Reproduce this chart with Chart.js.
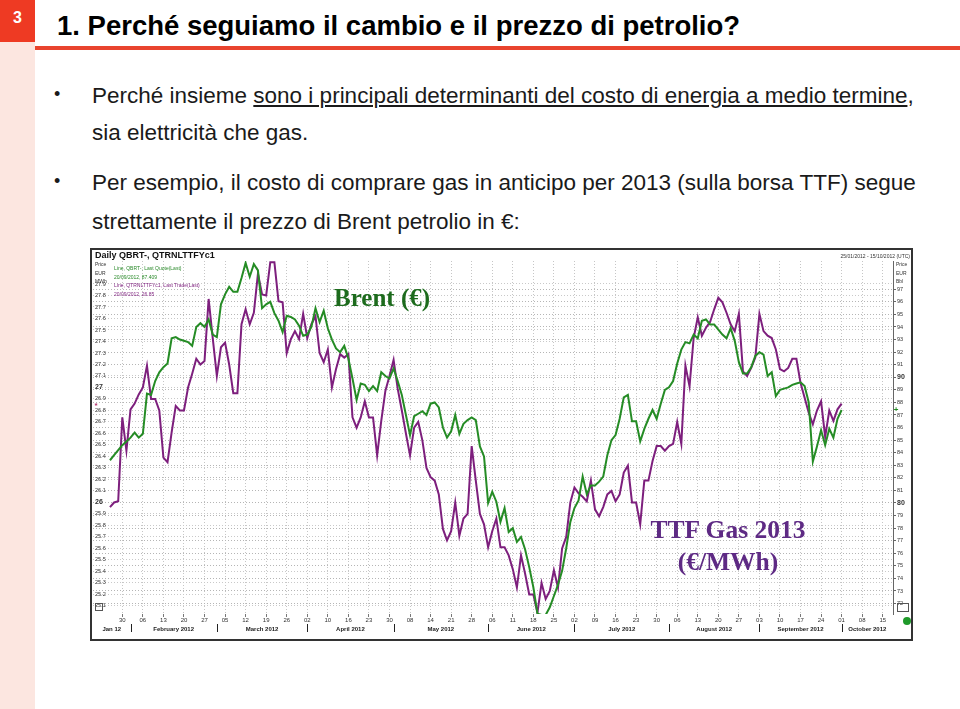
<!DOCTYPE html>
<html lang="it">
<head>
<meta charset="utf-8">
<title>Brent e TTF Gas 2013</title>
<script src="https://cdn.jsdelivr.net/npm/chart.js@4.4.1/dist/chart.umd.min.js"></script>
<style>
  body { margin:0; width:960px; height:709px; position:relative; overflow:hidden; background:#fff; font-family:"Liberation Sans", Arial, sans-serif; }
  .abs { position:absolute; white-space:nowrap; }
  #strip { left:0; top:0; width:35px; height:709px; background:#fce6e0; }
  #num { left:0; top:0; width:35px; height:42px; background:#ee3a23; color:#fff; font-weight:bold; font-size:16px; line-height:36px; text-align:center; }
  #title { left:57px; top:10px; font-size:27.5px; font-weight:bold; color:#000; }
  #rule { left:35px; top:46px; width:925px; height:4px; background:#e9442e; }
  .txt { font-size:22.5px; color:#1a1a1a; line-height:24px; }
  .bul { font-size:18px; color:#1a1a1a; }
  #frame { left:90px; top:248px; width:823px; height:393px; border:2px solid #333; box-sizing:border-box; }
  #chart { position:absolute; left:92px; top:250px; }
  .tiny { font-size:5px; color:#333; line-height:8.5px; }
  .ann { font-family:"Liberation Serif", "Times New Roman", serif; font-weight:bold; }
</style>
</head>
<body>
<div id="strip" class="abs"></div>
<div id="num" class="abs">3</div>
<div id="title" class="abs">1. Perché seguiamo il cambio e il prezzo di petrolio?</div>
<div id="rule" class="abs"></div>

<div class="abs bul" style="left:54px;top:84px">•</div>
<div class="abs txt" style="left:92px;top:84px">Perché insieme <u>sono i principali determinanti del costo di energia a medio termine</u>,</div>
<div class="abs txt" style="left:92px;top:121px">sia elettricità che gas.</div>
<div class="abs bul" style="left:54px;top:171px">•</div>
<div class="abs txt" style="left:92px;top:171px">Per esempio, il costo di comprare gas in anticipo per 2013 (sulla borsa TTF) segue</div>
<div class="abs txt" style="left:92px;top:210px">strettamente il prezzo di Brent petrolio in €:</div>

<div id="frame" class="abs"></div>
<canvas id="chart" width="819" height="389"></canvas>

<div class="abs" style="left:95px;top:250px;font-size:9px;font-weight:bold;color:#111">Daily QBRT-, QTRNLTTFYc1</div>
<div class="abs tiny" style="right:50px;top:252px">25/01/2012 - 15/10/2012 (UTC)</div>
<div class="abs tiny" style="left:95px;top:260px">Price<br>EUR<br>MWh</div>
<div class="abs tiny" style="left:896px;top:260px">Price<br>EUR<br>Bbl</div>
<div class="abs tiny" style="left:114px;top:264px;color:#2a8a2a">Line, QBRT-, Last Quote(Last)<br>20/09/2012, 87.409</div>
<div class="abs tiny" style="left:114px;top:281px;color:#7d1f7d">Line, QTRNLTTFYc1, Last Trade(Last)<br>20/09/2012, 26.85</div>
<div class="abs" style="left:95px;top:603px;width:6px;height:6px;border:1px solid #555"></div>
<div class="abs" style="left:897px;top:603px;width:10px;height:7px;border:1px solid #555"></div>
<div class="abs" style="left:903px;top:617px;width:8px;height:8px;border-radius:50%;background:#1f9a2a"></div>

<div class="abs ann" style="left:334px;top:284px;font-size:25px;color:#1d6b1d">Brent (€)</div>
<div class="abs ann" style="left:628px;top:514px;width:200px;text-align:center;font-size:25.5px;line-height:32px;color:#5e2a84">TTF Gas 2013<br>(€/MWh)</div>

<script>
// trading-day index 0 = Monday 30 Jan 2012
var firstDay = -3;

var brentEUR = [
  83.4, 83.8, 84.2, 84.6, 84.9, 85.2, 85.6, 85.2, 85.5, 88.7, 88.6, 89.7, 90.4,
  90.8, 91.1, 93.1, 93.2, 93.0, 92.9, 92.8, 92.5, 94.0, 94.3,
  94.0, 94.6, 93.4, 93.2, 95.8, 96.6, 97.2, 96.8, 96.8, 97.9,
  99.1, 98.0, 99.0, 98.5, 95.5, 95.8, 96.0, 95.1, 94.5, 93.6,
  94.9, 94.8, 94.6, 94.1, 93.3, 93.4, 94.0, 95.5, 94.4, 95.3,
  93.9, 93.0, 92.3, 92.0, 92.5, 91.5, 89.9, 88.2, 89.5, 89.4,
  88.9, 89.3, 88.9, 90.4, 90.1, 89.9, 90.7, 89.7, 88.6, 87.0,
  85.4, 86.9, 87.1, 87.3, 87.0, 87.9, 88.0, 87.6, 86.0, 85.2,
  85.7, 87.0, 85.5, 86.3, 86.6, 86.8, 86.6, 84.5, 83.7, 80.0,
  80.9, 80.1, 78.5, 79.6, 77.7, 78.0, 76.9, 77.3, 76.3, 74.9,
  73.3, 71.2, 71.1, 71.1, 71.7, 72.6, 73.5, 74.6, 76.4, 78.5,
  79.6, 80.2, 82.1, 80.7, 81.4, 81.4, 81.7, 82.1, 83.8, 85.0,
  85.4, 86.7, 88.4, 88.6, 86.5, 86.5, 84.9, 85.9, 86.7, 87.4,
  86.7, 87.9, 89.0, 89.2, 89.7, 91.1, 92.2, 92.8, 92.7, 93.4,
  93.1, 94.5, 94.6, 94.2, 94.2, 93.8, 93.4, 93.1, 93.9, 92.9,
  91.2, 90.3, 90.3, 90.8, 91.7, 92.0, 91.8, 90.1, 90.4, 88.5,
  89.0, 89.1, 89.2, 89.4, 89.5, 89.6, 89.3, 88.0, 83.3, 84.5,
  85.8, 84.6, 85.9, 85.2, 86.7, 87.4
];

var ttfGas = [
  25.96, 26.00, 26.01, 26.74, 26.45, 26.81, 26.86, 26.94, 27.00, 27.19, 26.90, 26.90, 26.80,
  26.39, 26.35, 26.61, 26.84, 26.80, 26.80, 27.00, 27.12, 27.25, 27.20,
  27.23, 27.77, 27.43, 27.10, 27.35, 27.39, 27.20, 26.95, 26.95, 27.55,
  27.68, 27.55, 27.65, 27.99, 27.81, 27.80, 28.09, 28.09, 27.75, 27.74,
  27.30, 27.42, 27.49, 27.42, 27.64, 27.43, 27.55, 27.62, 27.30, 27.22,
  27.33, 27.00, 27.16, 27.29, 27.26, 27.29, 26.74, 26.65, 26.74, 26.88,
  26.74, 26.74, 26.41, 26.71, 26.97, 27.10, 27.24, 26.99, 26.80, 26.60,
  26.41, 26.65, 26.70, 26.54, 26.30, 26.22, 26.19, 26.07, 25.77, 25.67,
  25.75, 26.00, 25.71, 25.86, 25.90, 26.49, 26.19, 25.90, 25.81, 25.61,
  25.75, 25.86, 25.61, 25.61, 25.54, 25.42, 25.26, 25.54, 25.38, 25.20,
  25.20, 25.04, 25.30, 25.16, 25.23, 25.41, 25.26, 25.60, 25.70, 26.00,
  26.13, 26.08, 26.05, 26.01, 26.19, 25.94, 25.88, 25.96, 26.07, 26.10,
  26.01, 26.07, 26.26, 26.32, 26.00, 26.00, 25.81, 26.19, 26.19, 26.36,
  26.49, 26.49, 26.45, 26.49, 26.51, 26.70, 26.51, 27.19, 27.01, 27.43,
  27.61, 27.45, 27.52, 27.57, 27.68, 27.78, 27.74, 27.65, 27.55, 27.49,
  27.64, 27.14, 27.10, 27.17, 27.26, 27.64, 27.49, 27.45, 27.43, 27.33,
  27.16, 27.14, 27.17, 27.25, 27.25, 27.04, 26.91, 26.78, 26.68, 26.80,
  26.88, 26.57, 26.80, 26.71, 26.81, 26.86
];

// weekly (Monday) tick labels, one every 5 trading days from day 0
var weekTicks = ['30', '06', '13', '20', '27', '05', '12', '19', '26', '02', '10', '16', '23', '30',
  '08', '14', '21', '28', '06', '11', '18', '25', '02', '09', '16', '23', '30', '06', '13', '20', '27',
  '03', '10', '17', '24', '01', '08', '15'];

var leftTicks = [25.1, 25.2, 25.3, 25.4, 25.5, 25.6, 25.7, 25.8, 25.9, 26, 26.1, 26.2, 26.3, 26.4, 26.5,
  26.6, 26.7, 26.8, 26.9, 27, 27.1, 27.2, 27.3, 27.4, 27.5, 27.6, 27.7, 27.8, 27.9];
var rightTicks = [72, 73, 74, 75, 76, 77, 78, 79, 80, 81, 82, 83, 84, 85, 86, 87, 88, 89, 90, 91, 92,
  93, 94, 95, 96, 97];

var monthNames = ['Jan 12', 'February 2012', 'March 2012', 'April 2012', 'May 2012', 'June 2012',
  'July 2012', 'August 2012', 'September 2012', 'October 2012'];
var monthStarts = [-20, 2, 23, 45, 66, 89, 110, 133, 155, 175];

var days = brentEUR.map(function (v, k) { return firstDay + k; });

Chart.defaults.font.family = '"Liberation Sans", Arial, sans-serif';

var monthRow = {
    id: 'monthRow',
    afterDraw: function (chart) {
        var ctx = chart.ctx;
        var x = chart.scales.x;
        ctx.save();
        ctx.font = 'bold 6px "Liberation Sans"';
        ctx.fillStyle = '#222';
        ctx.textAlign = 'center';
        ctx.textBaseline = 'middle';
        monthNames.forEach(function (name, k) {
            var a = Math.max(monthStarts[k], x.min);
            var b = k + 1 < monthStarts.length ? monthStarts[k + 1] : x.max;
            ctx.fillText(name, (x.getPixelForValue(a) + x.getPixelForValue(b)) / 2, 379);
            if (monthStarts[k] > x.min) {
                ctx.fillRect(Math.round(x.getPixelForValue(monthStarts[k])), 374, 1, 8);
            }
        });
        // last value markers on both axes
        var yT = chart.scales.yT, yB = chart.scales.yB;
        ctx.fillStyle = '#b0306a';
        ctx.font = 'bold 8px "Liberation Sans"';
        ctx.fillText('*', 4, yT.getPixelForValue(ttfGas[ttfGas.length - 1]) + 2);
        ctx.fillStyle = '#1f8a1f';
        ctx.fillText('+', 804, yB.getPixelForValue(brentEUR[brentEUR.length - 1]));
        ctx.restore();
    }
};

var ctx = document.getElementById('chart').getContext('2d');

var myChart = new Chart(ctx, {
    type: 'line',
    data: {
        datasets: [{
            label: 'QBRT-',
            data: days.map(function (d, k) { return { x: d, y: brentEUR[k] }; }),
            yAxisID: 'yB',
            borderColor: '#258c25',
            borderWidth: 2,
            pointRadius: 0,
            tension: 0
        }, {
            label: 'QTRNLTTFYc1',
            data: days.map(function (d, k) { return { x: d, y: ttfGas[k] }; }),
            yAxisID: 'yT',
            borderColor: '#7d1f7d',
            borderWidth: 2,
            pointRadius: 0,
            tension: 0
        }]
    },
    options: {
        responsive: false,
        animation: false,
        layout: { padding: { top: 11, left: 0, right: 0, bottom: 0 } },
        plugins: { legend: { display: false }, tooltip: { enabled: false } },
        scales: {
            x: {
                type: 'linear',
                min: -7.13,
                max: 187.5,
                afterBuildTicks: function (s) {
                    s.ticks = weekTicks.map(function (t, k) { return { value: k * 5 }; });
                },
                afterFit: function (s) { s.height = 25; },
                ticks: {
                    autoSkip: false, maxRotation: 0, padding: 0,
                    font: { size: 6 }, color: '#333',
                    callback: function (v, i) { return weekTicks[i]; }
                },
                grid: { color: '#c6c6c6', tickLength: 3, tickColor: '#777' },
                border: { display: false, dash: [1, 2] }
            },
            yT: {
                position: 'left',
                min: 25.03,
                max: 28.1,
                afterBuildTicks: function (s) {
                    s.ticks = leftTicks.map(function (v) { return { value: v }; });
                },
                afterFit: function (s) { s.width = 1; },
                ticks: {
                    mirror: true, padding: 2, color: '#333',
                    font: function (c) {
                        return { size: Number.isInteger(c.tick && c.tick.value) ? 7 : 5.5, weight: Number.isInteger(c.tick && c.tick.value) ? 'bold' : 'normal' };
                    },
                    callback: function (v) { return String(v); }
                },
                grid: { color: '#c9c9c9', drawTicks: false },
                border: { display: false, dash: [1, 2] }
            },
            yB: {
                position: 'right',
                min: 71.17,
                max: 99.25,
                afterBuildTicks: function (s) {
                    s.ticks = rightTicks.map(function (v) { return { value: v }; });
                },
                afterFit: function (s) { s.width = 18; },
                ticks: {
                    padding: 1, color: '#333',
                    font: function (c) {
                        var big = c.tick && c.tick.value % 10 === 0;
                        return { size: big ? 7 : 5.5, weight: big ? 'bold' : 'normal' };
                    }
                },
                grid: { color: '#b5b5b5', tickLength: 3, tickColor: '#666' },
                border: { display: true, color: '#666', width: 1, dash: [1, 2] }
            }
        }
    },
    plugins: [monthRow]
});
</script>
</body>
</html>
